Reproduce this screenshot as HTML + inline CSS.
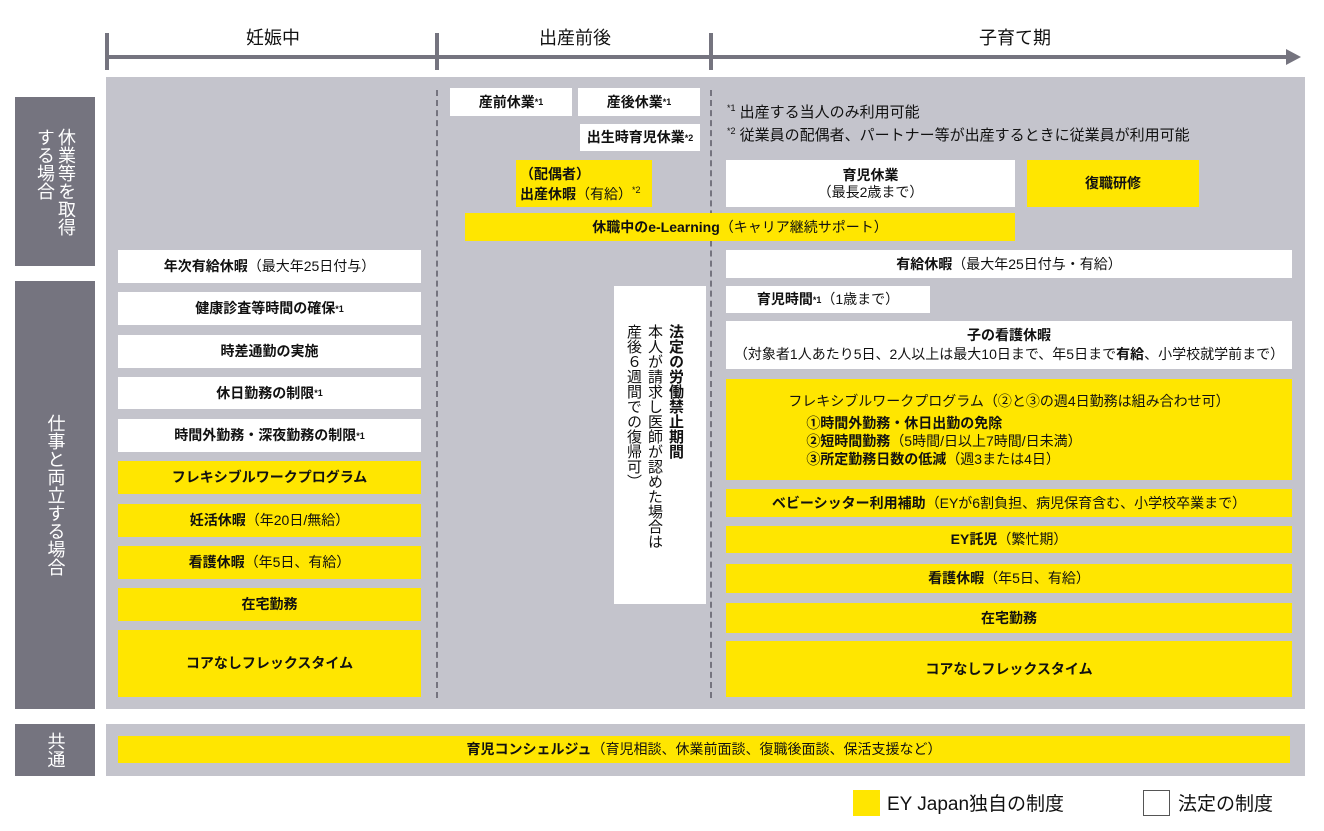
<!DOCTYPE html>
<html><head><meta charset="utf-8"><style>
body{margin:0;width:1324px;height:831px;background:#fff;position:relative;overflow:hidden;font-family:"Liberation Sans","Noto Sans CJK JP",sans-serif;color:#111}
.a{position:absolute;box-sizing:border-box}
.b{position:absolute;box-sizing:border-box;display:flex;align-items:center;justify-content:center;text-align:center;font-size:14px;line-height:17px;font-weight:bold;white-space:nowrap}
.w{background:#fff}.y{background:#ffe600}
.b span{font-weight:normal}
sup{font-size:9px;vertical-align:6px;line-height:0}
.lbl{position:absolute;background:#75747f;color:#fff;font-size:18px;writing-mode:vertical-rl;display:flex;align-items:center;justify-content:center;line-height:21px}
.hd{position:absolute;font-size:18px;top:24px;transform:translateX(-50%)}
</style></head><body>
<div class="a" style="left:107px;top:55px;width:1188px;height:4px;background:#75747f"></div>
<svg class="a" style="left:1286px;top:49px" width="16" height="16"><polygon points="0,0 15,8 0,16" fill="#75747f"/></svg>
<div class="a" style="left:105px;top:33px;width:4px;height:37px;background:#75747f"></div>
<div class="a" style="left:435px;top:33px;width:4px;height:37px;background:#75747f"></div>
<div class="a" style="left:709px;top:33px;width:4px;height:37px;background:#75747f"></div>
<div class="hd" style="left:273px">妊娠中</div>
<div class="hd" style="left:575px">出産前後</div>
<div class="hd" style="left:1015px">子育て期</div>
<div class="a" style="left:106px;top:77px;width:1199px;height:632px;background:#c4c4cc"></div>
<div class="a" style="left:106px;top:724px;width:1199px;height:52px;background:#c4c4cc"></div>
<div class="a" style="left:436px;top:90px;height:608px;border-left:2px dashed #75747f"></div>
<div class="a" style="left:710px;top:90px;height:608px;border-left:2px dashed #75747f"></div>
<div class="lbl" style="left:15px;top:97px;width:80px;height:169px">休業等を取得<br>する場合</div>
<div class="lbl" style="left:15px;top:281px;width:80px;height:428px">仕事と両立する場合</div>
<div class="lbl" style="left:15px;top:724px;width:80px;height:52px">共通</div>
<div class="b w" style="left:118px;top:250px;width:303px;height:33px">年次有給休暇<span>（最大年25日付与）</span></div>
<div class="b w" style="left:118px;top:292px;width:303px;height:33px">健康診査等時間の確保<sup>*1</sup></div>
<div class="b w" style="left:118px;top:335px;width:303px;height:33px">時差通勤の実施</div>
<div class="b w" style="left:118px;top:377px;width:303px;height:32px">休日勤務の制限<sup>*1</sup></div>
<div class="b w" style="left:118px;top:419px;width:303px;height:33px">時間外勤務・深夜勤務の制限<sup>*1</sup></div>
<div class="b y" style="left:118px;top:461px;width:303px;height:33px">フレキシブルワークプログラム</div>
<div class="b y" style="left:118px;top:504px;width:303px;height:33px">妊活休暇<span>（年20日/無給）</span></div>
<div class="b y" style="left:118px;top:546px;width:303px;height:33px">看護休暇<span>（年5日、有給）</span></div>
<div class="b y" style="left:118px;top:588px;width:303px;height:33px">在宅勤務</div>
<div class="b y" style="left:118px;top:630px;width:303px;height:67px">コアなしフレックスタイム</div>
<div class="b w" style="left:450px;top:88px;width:122px;height:28px">産前休業<sup>*1</sup></div>
<div class="b w" style="left:578px;top:88px;width:122px;height:28px">産後休業<sup>*1</sup></div>
<div class="b w" style="left:580px;top:124px;width:120px;height:27px">出生時育児休業<sup>*2</sup></div>
<div class="b y" style="left:516px;top:160px;width:136px;height:47px;justify-content:flex-start;text-align:left;padding-left:4px;line-height:20px"><div>（配偶者）<br>出産休暇<span>（有給）<sup>*2</sup></span></div></div>
<div class="b y" style="left:465px;top:213px;width:550px;height:28px">休職中のe-Learning<span>（キャリア継続サポート）</span></div>
<div class="a w" style="left:614px;top:286px;width:92px;height:318px;writing-mode:vertical-rl;font-size:15px;line-height:21px;padding:38px 20px 0 0">
<b>法定の労働禁止期間</b><br>本人が請求し医師が認めた場合は<br>産後６週間での復帰可）</div>
<div class="a" style="left:727px;top:101px;font-size:15px;line-height:23px"><sup>*1</sup> 出産する当人のみ利用可能<br><sup>*2</sup> 従業員の配偶者、パートナー等が出産するときに従業員が利用可能</div>
<div class="b w" style="left:726px;top:160px;width:289px;height:47px;flex-direction:column">育児休業<span>（最長2歳まで）</span></div>
<div class="b y" style="left:1027px;top:160px;width:172px;height:47px">復職研修</div>
<div class="b w" style="left:726px;top:250px;width:566px;height:28px">有給休暇<span>（最大年25日付与・有給）</span></div>
<div class="b w" style="left:726px;top:286px;width:204px;height:27px">育児時間<sup>*1</sup><span>（1歳まで）</span></div>
<div class="b w" style="left:726px;top:321px;width:566px;height:48px;flex-direction:column;line-height:19px">子の看護休暇<span>（対象者1人あたり5日、2人以上は最大10日まで、年5日まで<b>有給</b>、小学校就学前まで）</span></div>
<div class="b y" style="left:726px;top:379px;width:566px;height:101px;flex-direction:column;line-height:18px"><span>フレキシブルワークプログラム（②と③の週4日勤務は組み合わせ可）</span>
<div style="text-align:left;margin-top:4px;margin-left:-130px">①時間外勤務・休日出勤の免除<br>②短時間勤務<span>（5時間/日以上7時間/日未満）</span><br>③所定勤務日数の低減<span>（週3または4日）</span></div></div>
<div class="b y" style="left:726px;top:489px;width:566px;height:28px">ベビーシッター利用補助<span>（EYが6割負担、病児保育含む、小学校卒業まで）</span></div>
<div class="b y" style="left:726px;top:526px;width:566px;height:27px">EY託児<span>（繁忙期）</span></div>
<div class="b y" style="left:726px;top:564px;width:566px;height:29px">看護休暇<span>（年5日、有給）</span></div>
<div class="b y" style="left:726px;top:603px;width:566px;height:30px">在宅勤務</div>
<div class="b y" style="left:726px;top:641px;width:566px;height:56px">コアなしフレックスタイム</div>
<div class="b y" style="left:118px;top:736px;width:1172px;height:27px">育児コンシェルジュ<span>（育児相談、休業前面談、復職後面談、保活支援など）</span></div>
<div class="a y" style="left:853px;top:790px;width:27px;height:26px"></div>
<div class="a" style="left:887px;top:789px;font-size:19px">EY Japan独自の制度</div>
<div class="a" style="left:1143px;top:790px;width:27px;height:26px;border:1.5px solid #555;background:#fff"></div>
<div class="a" style="left:1178px;top:789px;font-size:19px">法定の制度</div>
</body></html>
